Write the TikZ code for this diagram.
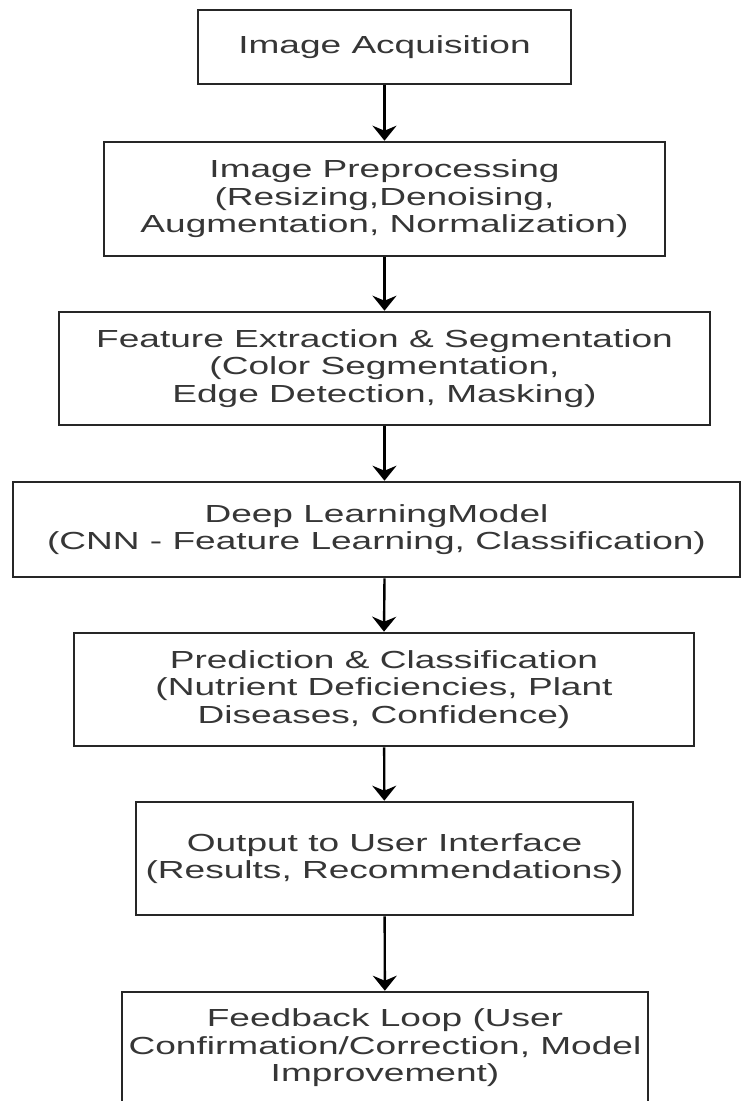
\documentclass[tikz,border=0pt]{standalone}
\usepackage{fontspec}
\setmainfont[FakeStretch=1.5]{Liberation Sans}
\usetikzlibrary{arrows.meta}
\definecolor{txt}{HTML}{363636}
\definecolor{edge}{HTML}{262626}
\tikzset{
  stage/.style={draw=edge,line width=2.6pt,align=center,text=txt,inner sep=0pt,
    font=\fontsize{24.7}{27.5}\selectfont},
  flow/.style={line width=2.4pt,-{Stealth[length=15pt,width=24pt,inset=5pt]}}
}
\begin{document}
\begin{tikzpicture}[x=1pt,y=1pt]
\useasboundingbox (0,0) rectangle (742,-1101);
\node[stage,minimum width=373pt,minimum height=74pt](acq)at(384.5,-47){Image Acquisition};
\node[stage,minimum width=561pt,minimum height=114pt](pre)at(384.5,-199){Image Preprocessing\\(Resizing,Denoising,\\Augmentation, Normalization)};
\node[stage,minimum width=651pt,minimum height=113pt](feat)at(384.5,-368.5){Feature Extraction \& Segmentation\\(Color Segmentation,\\Edge Detection, Masking)};
\node[stage,minimum width=727pt,minimum height=95pt](dl)at(376.5,-529.5){Deep LearningModel\\(CNN - Feature Learning, Classification)};
\node[stage,minimum width=620pt,minimum height=113pt](pred)at(384,-689.5){Prediction \& Classification\\(Nutrient Deficiencies, Plant\\Diseases, Confidence)};
\node[stage,minimum width=497pt,minimum height=113pt](out)at(384.5,-858.5){Output to User Interface\\(Results, Recommendations)};
\node[stage,minimum width=526pt,minimum height=112pt](fb)at(385,-1048){Feedback Loop (User\\Confirmation/Correction, Model\\Improvement)};
\draw[flow](acq)--(pre);
\draw[flow](pre)--(feat);
\draw[flow](feat.south)--(feat.south|-dl.north);
\draw[flow](feat.south|-dl.south)--(pred.north);
\draw[flow](pred)--(out);
\draw[flow](out)--(fb);
\end{tikzpicture}
\end{document}
